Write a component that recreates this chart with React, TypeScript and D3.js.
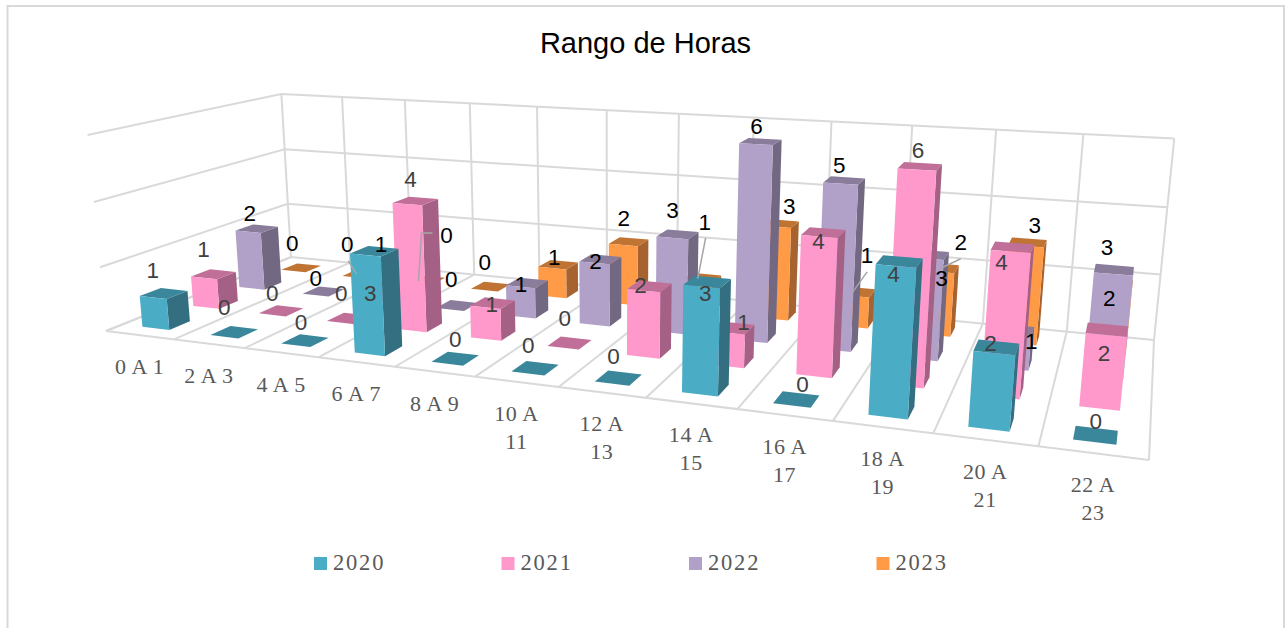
import React from "react";
import * as d3 from "d3";

const categories = ["0 A 1","2 A 3","4 A 5","6 A 7","8 A 9","10 A 11","12 A 13","14 A 15","16 A 17","18 A 19","20 A 21","22 A 23"];
const years = ["2020","2021","2022","2023"];
const values2020 = [1,0,0,3,0,0,0,3,0,4,2,0];
const values2021 = [1,0,0,4,1,0,2,1,4,6,4,2];
const values2022 = [2,0,1,0,1,2,3,6,5,3,1,3];
const values2023 = [0,0,0,0,1,2,1,3,1,2,3,2];
const seriesValues = [values2020,values2021,values2022,values2023];
const valueTicks = [0,2,4,6];

const front = ["#4BACC6","#FF99CC","#B1A0C7","#FF9A46"];
const top = ["#3A879B","#C07098","#8A7C9B","#C07433"];
const side = ["#336F81","#A56085","#736882","#A66330"];
const labelColor = ["#404040","#404040","#000000","#000000"];

// calibration of the 3D frame in page pixels
const FL=[106,331],FR=[1149,460],BR=[1154,340],BL=[291,257];
const TL=[87,136],TBL=[282,92],TBR=[1174,140];
const barShrink=0.98;
const uBow=0.0016;

function makeProjection(){
  const [x0,y0]=FL,[x1,y1]=FR,[x2,y2]=BR,[x3,y3]=BL;
  const sx=x0-x1+x2-x3, sy=y0-y1+y2-y3;
  const dx1=x1-x2, dx2=x3-x2, dy1=y1-y2, dy2=y3-y2;
  const den=dx1*dy2-dx2*dy1;
  const g=(sx*dy2-dx2*sy)/den, h=(dx1*sy-sx*dy1)/den;
  const a=x1-x0+g*x1, b=x3-x0+h*x3, c=x0, d=y1-y0+g*y1, e=y3-y0+h*y3, f=y0;
  const pts:[number,number,number[]][]=[[0,0,TL],[0,1,TBL],[1,1,TBR]];
  const rows:number[][]=[];
  for(const [u,v,[X,Y]] of pts){
    const W=g*u+h*v+1;
    rows.push([1,0,-X,X*W-(a*u+b*v+c)]);
    rows.push([0,1,-Y,Y*W-(d*u+e*v+f)]);
  }
  const M=[0,1,2].map(i=>[0,1,2,3].map(j=>d3.sum(rows,r=>r[i]*r[j])));
  for(let i=0;i<3;i++){
    let m=i; for(let k=i+1;k<3;k++) if(Math.abs(M[k][i])>Math.abs(M[m][i])) m=k;
    [M[i],M[m]]=[M[m],M[i]];
    for(let k=0;k<3;k++){ if(k===i) continue; const t=M[k][i]/M[i][i]; for(let j=i;j<4;j++) M[k][j]-=t*M[i][j]; }
  }
  const p=M[0][3]/M[0][0], q=M[1][3]/M[1][1], r=M[2][3]/M[2][2];
  return (u0:number,v:number,t:number):[number,number]=>{
    const u=u0+uBow*4*u0*(1-u0);
    const w=g*u+h*v+1+r*t;
    return [(a*u+b*v+c+p*t)/w,(d*u+e*v+f+q*t)/w];
  };
}
const proj=makeProjection();

const uScale=d3.scaleBand<string>().domain(categories).range([0,1]).paddingInner(0.6).paddingOuter(0.3);
const vScale=d3.scaleBand<string>().domain(years).range([0,1]).paddingInner(0.6).paddingOuter(0.3);
const tScale=d3.scaleLinear().domain([0,6]).range([0,1]);
const line=d3.line();
const poly=(pts:[number,number][])=>line(pts)+"Z";

// label nudges from the default place above the bar, [dx,dy] per series, per category
const labelNudges:[number,number][][]=[
 [[-11,-4],[-10,-6],[-4,1],[-4,61],[0,0],[-7,-4],[-5,-3],[-2,31],[6,4],[-6,32],[-6,15],[0,5]],
 [[-10,-6],[-9,2],[-8,-6],[-5,-2],[-1,20],[-5,-5],[-9,18],[11,14],[-5,28],[-2,3],[-11,34],[-3,43]],
 [[-7,4],[-8,6],[-7,-6],[-6,-7],[-6,21],[-5,21],[-5,-5],[-4,4],[-5,4],[13,43],[17,30],[-7,-3]],
 [[-9,-5],[-15,-10],[21,-26],[-6,-5],[-4,12],[-5,-4],[3,-36],[10,2],[11,-17],[21,-6],[7,2],[-5,35]],
];
// leader lines, relative to their label: series, category, points
const leaders:[number,number,[number,number][]][]=[
 [3,1,[[1,16],[9,29]]],
 [3,2,[[-14,-2],[-25,-2],[-28,46]]],
 [3,6,[[1,15],[-7,56]]],
 [3,8,[[0,16],[-15,37]]],
 [3,9,[[0,16],[-21,26]]],
];

function wrapCat(c:string){
  const parts=c.split(" ");
  return c.length>5?[parts.slice(0,2).join(" "),parts[2]]:[c];
}

function labelPos(s:number,i:number):[number,number]{
  const um=uScale(categories[i])!+uScale.bandwidth()/2;
  const vm=vScale(years[s])!+vScale.bandwidth()/2;
  const [ax,ay]=proj(um,vm,tScale(seriesValues[s][i])*barShrink);
  const [dx,dy]=labelNudges[s][i];
  return [ax+dx,ay-19+dy];
}

export default function App(){
  const grid="#D9D9D9";
  const stepU=1/categories.length;
  const bars:any[]=[]; const labels:any[]=[];
  for(let s=years.length-1;s>=0;s--){
    const v0=vScale(years[s])!, v1=v0+vScale.bandwidth();
    categories.forEach((cat,i)=>{
      const u0=uScale(cat)!, u1=u0+uScale.bandwidth();
      const t=tScale(seriesValues[s][i])*barShrink;
      bars.push(<g key={`${s}-${i}`}>
        {t>0&&<path d={poly([proj(u1,v0,0),proj(u1,v1,0),proj(u1,v1,t),proj(u1,v0,t)])} fill={side[s]}/>}
        <path d={poly([proj(u0,v0,t),proj(u1,v0,t),proj(u1,v1,t),proj(u0,v1,t)])} fill={top[s]}/>
        {t>0&&<path d={poly([proj(u0,v0,0),proj(u1,v0,0),proj(u1,v0,t),proj(u0,v0,t)])} fill={front[s]}/>}
      </g>);
    });
  }
  for(let s=0;s<years.length;s++){
    categories.forEach((cat,i)=>{
      const [x,y]=labelPos(s,i);
      labels.push(<text key={`${s}:${i}`} x={x} y={y} textAnchor="middle" dominantBaseline="central" fontFamily="'Liberation Sans',Arial,sans-serif" fontSize={22.5} fill={labelColor[s]}>{seriesValues[s][i]}</text>);
    });
  }
  return <svg width={1287} height={628} style={{position:"absolute",left:0,top:0,display:"block",background:"#fff"}}>
    <path d="M7.5,628V6H1284V628" fill="none" stroke={grid} strokeWidth={2}/>
    <text x={645.5} y={53} textAnchor="middle" fontFamily="'Liberation Sans',Arial,sans-serif" fontSize={29} fill="#000">Rango de Horas</text>
    <g fill="none" stroke={grid} strokeWidth={2}>
      {valueTicks.map(k=>{const t=tScale(k);return <path key={k} d={line([proj(0,0,t),proj(0,1,t),proj(1,1,t)])!}/>;})}
      {d3.range(0,categories.length+1).map(k=><path key={k} d={line([proj(k*stepU,1,1),proj(k*stepU,1,0),proj(k*stepU,0,0)])!}/>)}
      <path d={line([proj(0,0,0),proj(1,0,0)])!}/>
    </g>
    {bars}
    <g fill="none" stroke="#A6A6A6" strokeWidth={1.5}>
      {leaders.map(([s,i,pts])=>{const [x,y]=labelPos(s,i);return <path key={`${s}-${i}`} d={line(pts.map(([a,b])=>[x+a,y+b] as [number,number]))!}/>;})}
    </g>
    {labels}
    {categories.map((c,i)=>{
      const [x,y]=proj((i+0.5)*stepU,0,0);
      return <text key={c} textAnchor="middle" fontFamily="'Liberation Serif',serif" fontSize={22} letterSpacing={0.6} fill="#595959">
        {wrapCat(c).map((l,j)=><tspan key={j} x={x} y={y+39+j*28}>{l}</tspan>)}
      </text>;
    })}
    {years.map((y,i)=><g key={y}>
      <rect x={314+i*187.5} y={557} width={13} height={13} fill={front[i]}/>
      <text x={333+i*187.5} y={570} fontFamily="'Liberation Serif',serif" fontSize={22.5} letterSpacing={1.8} fill="#595959">{y}</text>
    </g>)}
  </svg>;
}
